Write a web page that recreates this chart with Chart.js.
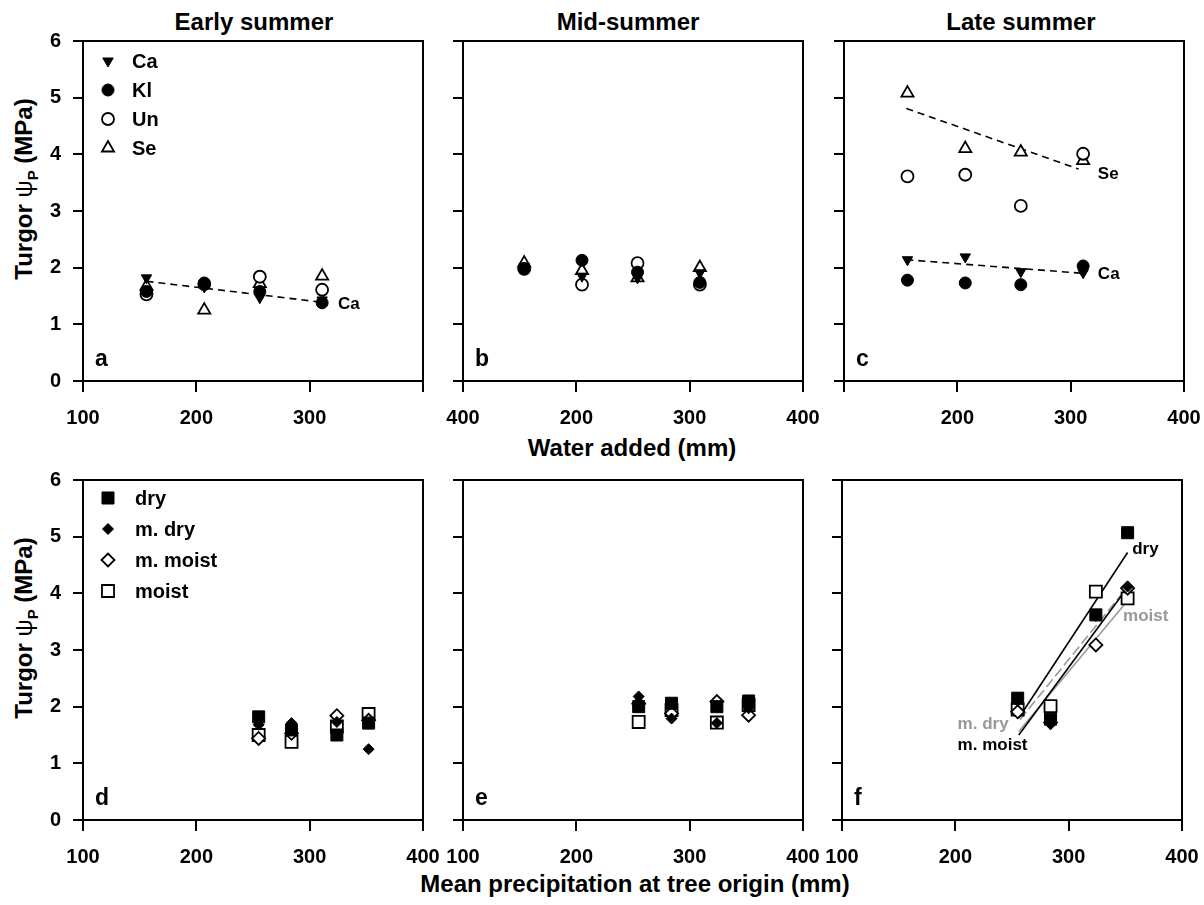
<!DOCTYPE html>
<html>
<head>
<meta charset="utf-8">
<title>Turgor vs water added / precipitation</title>
<script src="https://cdn.jsdelivr.net/npm/chart.js@4.4.1/dist/chart.umd.min.js"></script>
<style>
    body { margin: 0; background: #fff; overflow: hidden; }
    #page { position: relative; width: 1204px; height: 905px; font-family: "Liberation Sans", Arial, sans-serif; font-weight: bold; color: #000; }
    .title { position: absolute; width: 400px; text-align: center; font-size: 24px; line-height: 28px; white-space: nowrap; }
    .ytitle { position: absolute; width: 300px; height: 28px; line-height: 28px; text-align: center; font-size: 24px; white-space: nowrap; transform: rotate(-90deg); }
    .ytitle .psi { font-weight: normal; }
    .ytitle sub { font-size: 15px; font-weight: bold; }
    canvas { position: absolute; }
</style>
</head>
<body>
<div id="page">
    <div class="title" style="left:54px; top:8px;">Early summer</div>
    <div class="title" style="left:428px; top:8px;">Mid-summer</div>
    <div class="title" style="left:821px; top:8px;">Late summer</div>
    <div class="title" style="left:432px; top:434px;">Water added (mm)</div>
    <div class="title" style="left:335px; top:870px; width:600px;">Mean precipitation at tree origin (mm)</div>
    <div class="ytitle" style="left:-126px; top:175px;">Turgor <span class="psi">ψ<sub>P</sub></span> (MPa)</div>
    <div class="ytitle" style="left:-126px; top:614px;">Turgor <span class="psi">ψ<sub>P</sub></span> (MPa)</div>

    <canvas id="pa" width="440" height="403" style="left:3px; top:29px;"></canvas>
    <canvas id="pb" width="440" height="403" style="left:383px; top:29px;"></canvas>
    <canvas id="pc" width="440" height="403" style="left:764px; top:29px;"></canvas>
    <canvas id="pd" width="440" height="403" style="left:3px; top:468px;"></canvas>
    <canvas id="pe" width="440" height="403" style="left:383px; top:468px;"></canvas>
    <canvas id="pf" width="440" height="403" style="left:762px; top:468px;"></canvas>
</div>

<script>
// x positions (mm)
const waterEarly = [156, 207, 256, 311];
const waterMid = [154, 205, 254, 309];
const waterLate = [156, 207, 256, 311];
const precip = [255, 284, 324, 352];

// Early summer (a)
const earlyCa = [1.82, 1.66, 1.47, 1.43];
const earlyKl = [1.58, 1.73, 1.58, 1.38];
const earlyUn = [1.53, 1.71, 1.84, 1.61];
const earlySe = [1.67, 1.25, 1.72, 1.85];

// Mid-summer (b)
const midCa = [2.02, 1.85, 1.82, 1.91];
const midKl = [1.98, 2.13, 1.92, 1.74];
const midUn = [1.98, 1.70, 2.08, 1.70];
const midSe = [2.08, 1.95, 1.82, 2.00];

// Late summer (c)
const lateCa = [2.14, 2.19, 1.93, 1.91];
const lateKl = [1.78, 1.73, 1.70, 2.03];
const lateUn = [3.61, 3.64, 3.09, 4.01];
const lateSe = [5.08, 4.10, 4.04, 3.89];

// Early summer by origin (d)
const earlyDry = [1.82, 1.59, 1.50, 1.71];
const earlyMDry = [1.68, 1.71, 1.73, 1.25];
const earlyMMoist = [1.44, 1.53, 1.84, 1.76];
const earlyMoist = [1.50, 1.38, 1.65, 1.87];

// Mid-summer by origin (e)
const midDry = [2.00, 2.06, 2.00, 2.10];
const midMDry = [2.18, 1.79, 1.71, 1.97];
const midMMoist = [2.05, 1.88, 2.09, 1.85];
const midMoist = [1.73, 1.94, 1.72, 2.03];

// Late summer by origin (f)
const lateDry = [2.15, 1.78, 3.62, 5.07];
const lateMDry = [2.10, 1.71, 3.60, 4.12];
const lateMMoist = [1.91, 1.72, 3.09, 4.09];
const lateMoist = [1.95, 2.01, 4.03, 3.91];

// regression lines (end points)
const trendEarlyCaX = [156, 311], trendEarlyCaY = [1.76, 1.39];
const trendLateSeX = [155, 307], trendLateSeY = [4.81, 3.74];
const trendLateCaX = [155, 311], trendLateCaY = [2.14, 1.90];
const fitDryX = [256, 352], fitDryY = [1.80, 4.72];
const fitMDryX = [257, 351], fitMDryY = [1.77, 4.09];
const fitMMoistX = [256, 350], fitMMoistY = [1.50, 4.05];
const fitMoistX = [256, 349], fitMoistY = [1.56, 3.80];

// axes
const xTicks = [100, 200, 300, 400];
const yTicks = [0, 1, 2, 3, 4, 5, 6];
const tickLabelsA = ['100', '200', '300', ''];
const tickLabelsB = ['400', '200', '300', '400'];
const tickLabelsC = ['', '200', '300', '400'];
const tickLabelsBottom = ['100', '200', '300', '400'];

const FONT = '"Liberation Sans", Arial, sans-serif';

const styles = {
    'Ca': { shape: 'triangle', rot: 180, r: 6, bg: '#000', bw: 1 },
    'Kl': { shape: 'circle', r: 6, bg: '#000', bw: 1 },
    'Un': { shape: 'circle', r: 6, bg: '#fff', bw: 1.8 },
    'Se': { shape: 'triangle', r: 7, bg: '#fff', bw: 1.8 },
    'dry': { shape: 'rect', r: 8.5, bg: '#000', bw: 1 },
    'm. dry': { shape: 'rectRot', r: 5.5, bg: '#000', bw: 1 },
    'm. moist': { shape: 'rectRot', r: 6.5, bg: '#fff', bw: 1.8 },
    'moist': { shape: 'rect', r: 8.5, bg: '#fff', bw: 1.8 }
};

function pointSet(name, xs, ys) {
    const st = styles[name];
    return {
        type: 'scatter',
        label: name,
        data: xs.map((x, i) => ({ x: x, y: ys[i] })),
        pointStyle: st.shape,
        pointRotation: st.rot || 0,
        pointRadius: st.r,
        pointBackgroundColor: st.bg,
        pointBorderColor: '#000',
        pointBorderWidth: st.bw,
        showLine: false
    };
}

function lineSet(xs, ys, color, dash) {
    return {
        type: 'line',
        data: xs.map((x, i) => ({ x: x, y: ys[i] })),
        borderColor: color,
        borderWidth: 1.6,
        borderDash: dash,
        pointRadius: 0,
        fill: false,
        tension: 0
    };
}

// draws the frame, panel letter, notes and the in-plot legend
const panelDecor = {
    id: 'panelDecor',
    afterDatasetsDraw(chart, args, opts) {
        const ctx = chart.ctx, a = chart.chartArea;
        ctx.save();
        ctx.strokeStyle = '#000';
        ctx.lineWidth = 2;
        ctx.strokeRect(a.left, a.top, a.right - a.left, a.bottom - a.top);

        ctx.fillStyle = '#000';
        ctx.textAlign = 'left';
        ctx.textBaseline = 'alphabetic';
        ctx.font = 'bold 23px ' + FONT;
        ctx.fillText(opts.letter, a.left + 12, a.bottom - 15);

        ctx.font = 'bold 17px ' + FONT;
        ctx.textBaseline = 'middle';
        (opts.notes || []).forEach(n => {
            ctx.fillStyle = n.color || '#000';
            ctx.fillText(n.text, chart.scales.x.getPixelForValue(n.x), chart.scales.y.getPixelForValue(n.y));
        });

        if (opts.legend) {
            const L = opts.legend;
            ctx.font = 'bold 20px ' + FONT;
            L.items.forEach((name, i) => {
                const st = styles[name];
                const y = a.top + L.top + i * L.gap;
                ctx.fillStyle = st.bg;
                ctx.strokeStyle = '#000';
                ctx.lineWidth = st.bw;
                Chart.helpers.drawPoint(ctx, { pointStyle: st.shape, radius: st.r, rotation: st.rot || 0, borderWidth: st.bw }, a.left + L.mx, y);
                ctx.fillStyle = '#000';
                ctx.fillText(name, a.left + L.tx, y + 1);
            });
        }
        ctx.restore();
    }
};

function makePanel(id, datasets, xLabels, showY, decor) {
    const tickFont = { family: FONT, size: 20, weight: 'bold' };
    new Chart(document.getElementById(id), {
        type: 'scatter',
        data: { datasets: datasets },
        options: {
            responsive: false,
            animation: false,
            events: [],
            layout: { padding: { left: 0, top: 12, right: 20, bottom: 0 } },
            plugins: {
                legend: { display: false },
                tooltip: { enabled: false },
                panelDecor: decor
            },
            scales: {
                x: {
                    type: 'linear',
                    min: 100,
                    max: 400,
                    afterBuildTicks: s => { s.ticks = xTicks.map(v => ({ value: v })); },
                    // fixed size, labels may overhang the plot edges
                    afterFit: s => { s.height = 51; s.paddingLeft = 0; s.paddingRight = 0; },
                    ticks: {
                        color: '#000',
                        font: tickFont,
                        padding: 14,
                        maxRotation: 0,
                        callback: v => xLabels[xTicks.indexOf(v)]
                    },
                    grid: { drawOnChartArea: false, drawTicks: true, tickLength: 11, color: '#000', lineWidth: 2 },
                    border: { display: true, color: '#000', width: 2 }
                },
                y: {
                    type: 'linear',
                    min: 0,
                    max: 6,
                    afterBuildTicks: s => { s.ticks = yTicks.map(v => ({ value: v })); },
                    afterFit: s => { s.width = 80; s.paddingTop = 0; s.paddingBottom = 0; },
                    ticks: {
                        color: '#000',
                        font: tickFont,
                        padding: 12,
                        callback: v => showY ? String(v) : ''
                    },
                    grid: { drawOnChartArea: false, drawTicks: true, tickLength: 10, color: '#000', lineWidth: 2 },
                    border: { display: true, color: '#000', width: 2 }
                }
            }
        },
        plugins: [panelDecor]
    });
}

const DASH = [7, 5];

makePanel('pa', [
    pointSet('Ca', waterEarly, earlyCa),
    pointSet('Kl', waterEarly, earlyKl),
    pointSet('Un', waterEarly, earlyUn),
    pointSet('Se', waterEarly, earlySe),
    lineSet(trendEarlyCaX, trendEarlyCaY, '#000', DASH)
], tickLabelsA, true, {
    letter: 'a',
    notes: [{ text: 'Ca', x: 325, y: 1.35 }],
    legend: { items: ['Ca', 'Kl', 'Un', 'Se'], top: 20, gap: 29, mx: 25, tx: 49 }
});

makePanel('pb', [
    pointSet('Ca', waterMid, midCa),
    pointSet('Kl', waterMid, midKl),
    pointSet('Un', waterMid, midUn),
    pointSet('Se', waterMid, midSe)
], tickLabelsB, false, { letter: 'b' });

makePanel('pc', [
    pointSet('Ca', waterLate, lateCa),
    pointSet('Kl', waterLate, lateKl),
    pointSet('Un', waterLate, lateUn),
    pointSet('Se', waterLate, lateSe),
    lineSet(trendLateSeX, trendLateSeY, '#000', DASH),
    lineSet(trendLateCaX, trendLateCaY, '#000', DASH)
], tickLabelsC, false, {
    letter: 'c',
    notes: [{ text: 'Se', x: 324, y: 3.65 }, { text: 'Ca', x: 324, y: 1.88 }]
});

makePanel('pd', [
    pointSet('dry', precip, earlyDry),
    pointSet('m. dry', precip, earlyMDry),
    pointSet('m. moist', precip, earlyMMoist),
    pointSet('moist', precip, earlyMoist)
], tickLabelsBottom, true, {
    letter: 'd',
    legend: { items: ['dry', 'm. dry', 'm. moist', 'moist'], top: 18, gap: 31, mx: 25, tx: 52 }
});

makePanel('pe', [
    pointSet('dry', precip, midDry),
    pointSet('m. dry', precip, midMDry),
    pointSet('m. moist', precip, midMMoist),
    pointSet('moist', precip, midMoist)
], tickLabelsBottom, false, { letter: 'e' });

makePanel('pf', [
    pointSet('dry', precip, lateDry),
    pointSet('m. dry', precip, lateMDry),
    pointSet('m. moist', precip, lateMMoist),
    pointSet('moist', precip, lateMoist),
    lineSet(fitDryX, fitDryY, '#000', []),
    lineSet(fitMMoistX, fitMMoistY, '#000', []),
    lineSet(fitMDryX, fitMDryY, '#999', [10, 4]),
    lineSet(fitMoistX, fitMoistY, '#999', [])
], tickLabelsBottom, false, {
    letter: 'f',
    notes: [
        { text: 'dry', x: 356, y: 4.78 },
        { text: 'moist', x: 348, y: 3.59, color: '#999' },
        { text: 'm. dry', x: 202, y: 1.69, color: '#999' },
        { text: 'm. moist', x: 202, y: 1.32 }
    ]
});
</script>
</body>
</html>
